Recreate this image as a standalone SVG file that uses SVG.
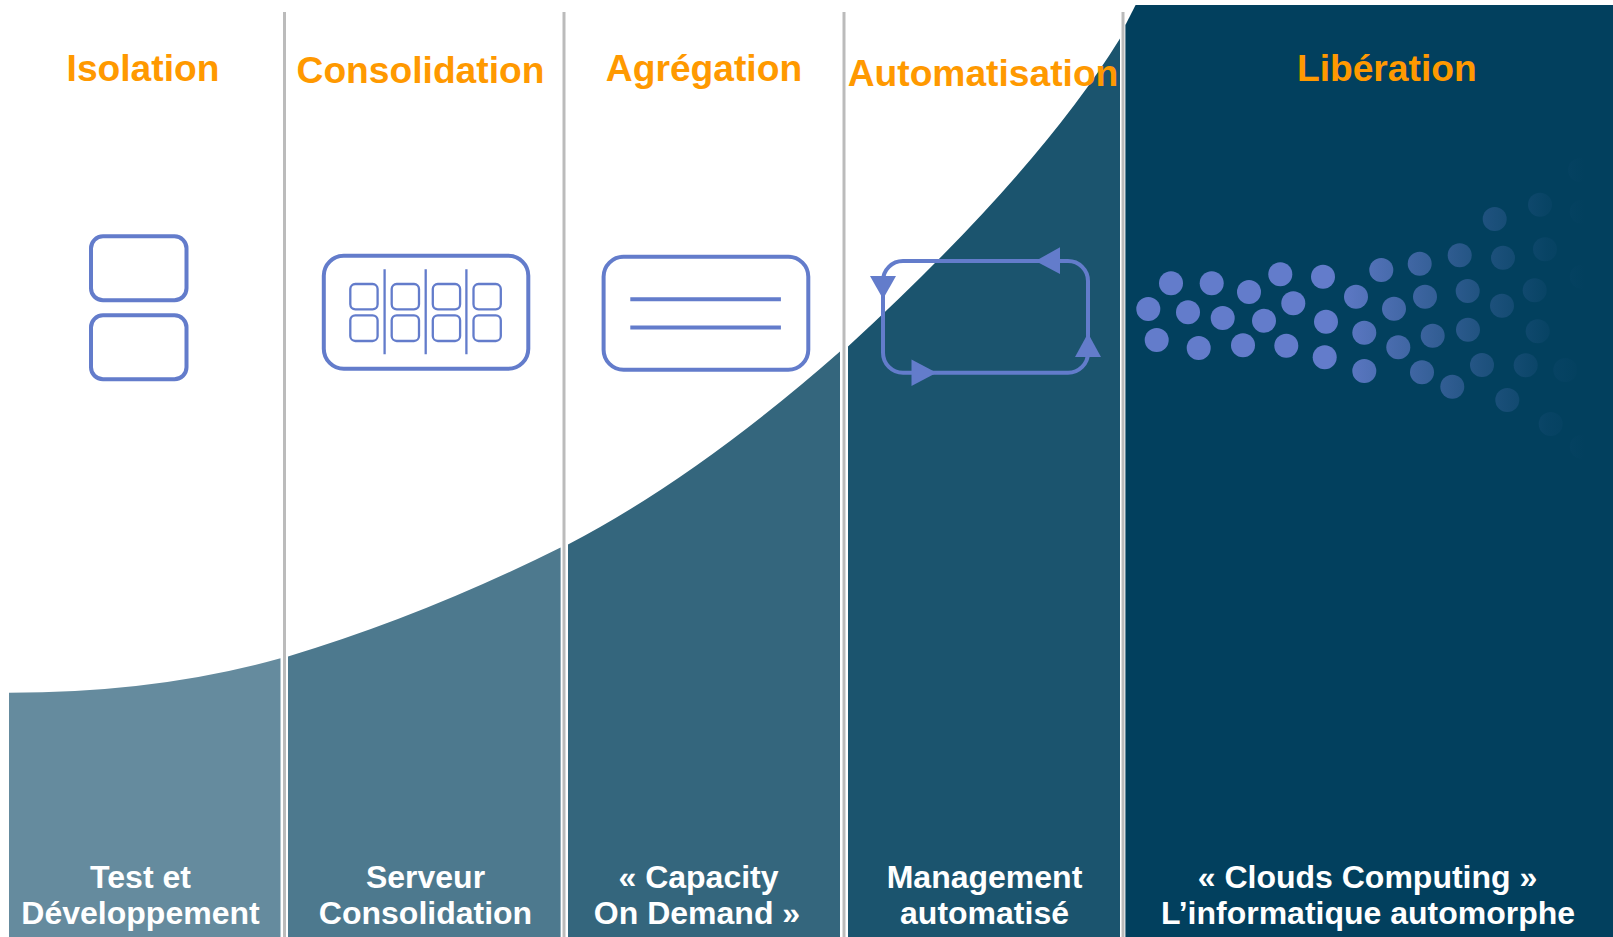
<svg xmlns="http://www.w3.org/2000/svg" width="1613" height="937" viewBox="0 0 1613 937">
<style>
.sep{stroke:#bbbbbb;stroke-width:3;fill:none}
.ico{fill:none;stroke:#637ccb;stroke-width:4}
.thin{fill:none;stroke:#637ccb;stroke-width:2.3}
.arr{fill:#637ccb}
.h{font-family:"Liberation Sans",Arial,sans-serif;font-weight:700;font-size:37.2px;fill:#ff9900;text-anchor:middle}
.b{font-family:"Liberation Sans",Arial,sans-serif;font-weight:700;font-size:32px;fill:#ffffff;text-anchor:middle}
</style>
<defs>
<linearGradient id="fade" gradientUnits="userSpaceOnUse" x1="1330" y1="0" x2="1585" y2="0">
<stop offset="0" stop-color="#637ccb"/>
<stop offset=".6" stop-color="#637ccb" stop-opacity=".3"/>
<stop offset=".85" stop-color="#637ccb" stop-opacity=".06"/>
<stop offset="1" stop-color="#637ccb" stop-opacity="0"/>
</linearGradient>
</defs>
<rect width="1613" height="937" fill="#ffffff"/>
<g id="panels">
<path id="panel1" fill="#658b9e" d="M9 692.7Q158 692.7 280.5 658.2V937H9Z"/>
<path id="panel2" fill="#4d798e" d="M288 656.5Q424.5 615.5 560.6 547.5V937H288Z"/>
<path id="panel3" fill="#34667d" d="M568 544.5Q696.7 477.5 840 351.5V937H568Z"/>
<path id="panel4" fill="#1b546e" d="M848 346.5Q1037.4 172.5 1120 38.5V937H848Z"/>
<path id="panel5" fill="#02405e" d="M1125.4 25L1135.6 5H1613V937H1125.4Z"/>
</g>
<g id="separators">
<line class="sep" x1="284.5" y1="12" x2="284.5" y2="937"/>
<line class="sep" x1="564" y1="12" x2="564" y2="937"/>
<line class="sep" x1="844" y1="12" x2="844" y2="937"/>
<line class="sep" x1="1123" y1="12" x2="1123" y2="937"/>
</g>
<g id="titles">
<text class="h" x="143" y="81">Isolation</text>
<text class="h" x="420.5" y="82.7">Consolidation</text>
<text class="h" x="704" y="81">Agrégation</text>
<text class="h" x="983" y="86">Automatisation</text>
<text class="h" x="1386.8" y="81">Libération</text>
</g>
<g id="icon-isolation">
<rect class="ico" x="91" y="236.3" width="95.5" height="64" rx="12"/>
<rect class="ico" x="91" y="315.3" width="95.5" height="64" rx="12"/>
</g>
<g id="icon-consolidation">
<rect class="ico" x="323.8" y="255.8" width="204.5" height="113" rx="20"/>
<rect class="thin" x="350.3" y="284" width="27.3" height="25.3" rx="5"/>
<rect class="thin" x="391.7" y="284" width="27.3" height="25.3" rx="5"/>
<rect class="thin" x="432.8" y="284" width="27.3" height="25.3" rx="5"/>
<rect class="thin" x="473.5" y="284" width="27.3" height="25.3" rx="5"/>
<rect class="thin" x="350.3" y="315.3" width="27.3" height="25.7" rx="5"/>
<rect class="thin" x="391.7" y="315.3" width="27.3" height="25.7" rx="5"/>
<rect class="thin" x="432.8" y="315.3" width="27.3" height="25.7" rx="5"/>
<rect class="thin" x="473.5" y="315.3" width="27.3" height="25.7" rx="5"/>
<path class="thin" d="M384.6 269.3V354.3M425.7 269.3V354.3M466.4 269.3V354.3"/>
</g>
<g id="icon-agregation">
<rect class="ico" x="603.6" y="256.8" width="204.7" height="113" rx="20"/>
<path class="ico" d="M630.3 299.3H780.9M630.3 327.6H780.9"/>
</g>
<g id="icon-automatisation">
<rect class="ico" x="883" y="261" width="205" height="111.8" rx="20"/>
<path class="arr" d="M1035.4 261L1060 247.3V274Z"/>
<path class="arr" d="M883 299L870 276H896Z"/>
<path class="arr" d="M936.6 372.8L911.5 359.5V386Z"/>
<path class="arr" d="M1088 333.3L1075 357H1101Z"/>
</g>
<g id="dots" fill="url(#fade)">
<circle cx="1171" cy="283.3" r="12"/><circle cx="1211.7" cy="283.3" r="12"/><circle cx="1249" cy="292" r="12"/><circle cx="1280.3" cy="274.3" r="12"/><circle cx="1323" cy="276.7" r="12"/>
<circle cx="1148.3" cy="309" r="12"/><circle cx="1188" cy="312.3" r="12"/><circle cx="1222.7" cy="318" r="12"/><circle cx="1264" cy="320.7" r="12"/><circle cx="1293.3" cy="303.3" r="12"/>
<circle cx="1326" cy="321.7" r="12"/><circle cx="1156.7" cy="340" r="12"/><circle cx="1198.7" cy="348" r="12"/><circle cx="1243" cy="345.3" r="12"/><circle cx="1286.3" cy="345.7" r="12"/>
<circle cx="1324.7" cy="357.3" r="12"/>
<circle cx="1356" cy="296.7" r="12"/><circle cx="1381.3" cy="270" r="12"/><circle cx="1419.7" cy="263.7" r="12"/><circle cx="1459.7" cy="255.3" r="12"/><circle cx="1494.7" cy="219" r="12"/><circle cx="1540" cy="204.7" r="12"/>
<circle cx="1394" cy="308.7" r="12"/><circle cx="1425" cy="296.7" r="12"/><circle cx="1467.7" cy="291" r="12"/><circle cx="1503" cy="257.7" r="12"/><circle cx="1545" cy="249.3" r="12"/>
<circle cx="1364.3" cy="332.7" r="12"/><circle cx="1398.3" cy="347.3" r="12"/><circle cx="1432.7" cy="335.7" r="12"/><circle cx="1468" cy="329.7" r="12"/><circle cx="1502" cy="305.7" r="12"/><circle cx="1534.7" cy="290.3" r="12"/>
<circle cx="1364.3" cy="371" r="12"/><circle cx="1422" cy="372.3" r="12"/><circle cx="1452.3" cy="386.7" r="12"/><circle cx="1482" cy="365" r="12"/><circle cx="1525.7" cy="365.3" r="12"/>
<circle cx="1507.3" cy="400" r="12"/><circle cx="1537.7" cy="331.3" r="12"/><circle cx="1565.3" cy="370" r="12"/><circle cx="1550.7" cy="424" r="12"/>
<circle cx="1580" cy="170" r="12"/><circle cx="1581.7" cy="211.7" r="12"/><circle cx="1581.7" cy="276.7" r="12"/><circle cx="1581.7" cy="446.7" r="12"/>
</g>
<g id="captions">
<text class="b" x="140.5" y="887.5">Test et</text>
<text class="b" x="140.5" y="923.5">Développement</text>
<text class="b" x="425.5" y="887.5">Serveur</text>
<text class="b" x="425.5" y="923.5">Consolidation</text>
<text class="b" x="698.5" y="887.5">« Capacity</text>
<text class="b" x="697" y="923.5">On Demand »</text>
<text class="b" x="984.5" y="887.5">Management</text>
<text class="b" x="984.5" y="923.5">automatisé</text>
<text class="b" x="1367.5" y="887.5">« Clouds Computing »</text>
<text class="b" x="1368" y="923.5">L’informatique automorphe</text>
</g>
</svg>
